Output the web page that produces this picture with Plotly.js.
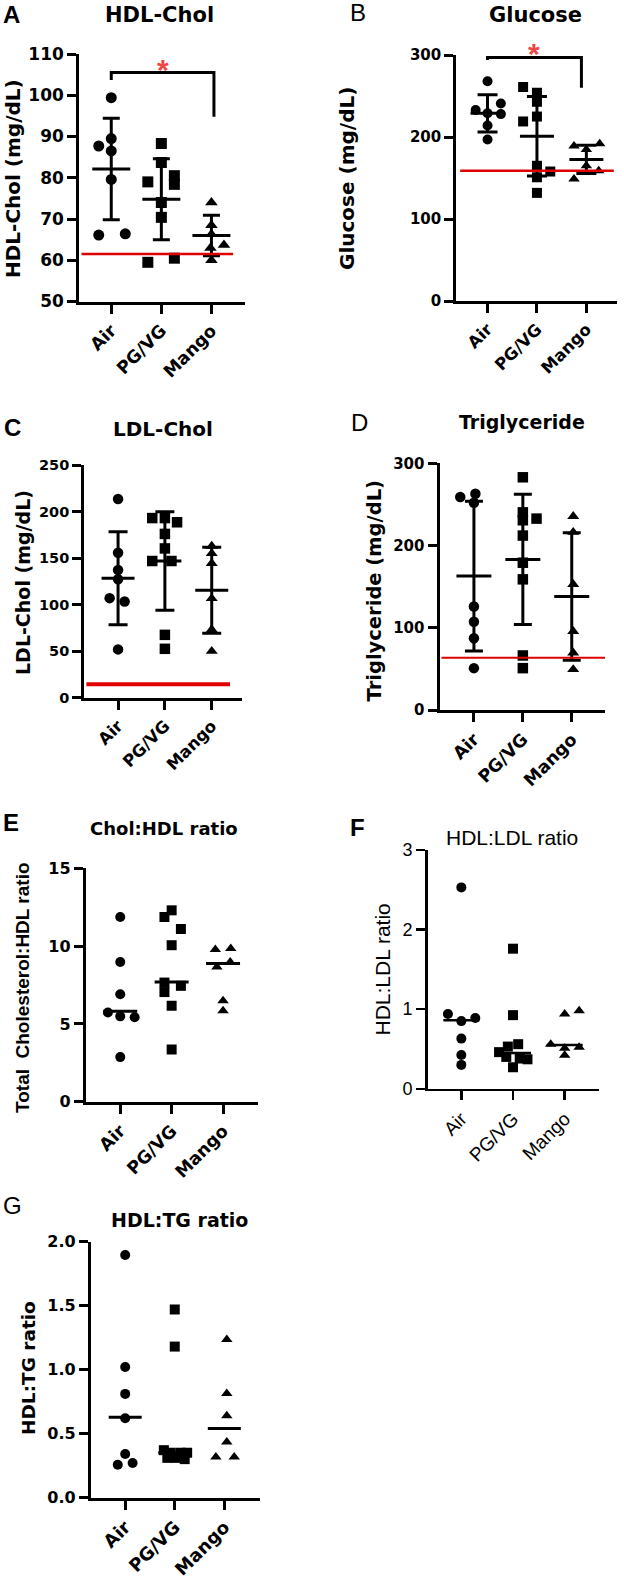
<!DOCTYPE html>
<html>
<head>
<meta charset="utf-8">
<script src="https://cdn.plot.ly/plotly-3.0.1.min.js"></script>
<style>
  html, body { margin: 0; padding: 0; background: #fff; }
  #plot { width: 624px; height: 1578px; }
</style>
</head>
<body>
<div id="plot"></div>
<script>
// GROUPS
var groups = ["Air", "PG/VG", "Mango"];
var symbols = ["circle", "square", "triangle-up"];

// A - HDL-Chol (mg/dL), mean +/- SD
var hdlAir = [99.4, 89.5, 87.7, 86.5, 79.6, 66.1, 66.4];
var hdlPgvg = [88.3, 83.7, 80.5, 79.0, 78.4, 74.0, 70.4, 60.5, 59.5];
var hdlMango = [74.0, 68.5, 66.3, 63.7, 63.0, 60.0];
var hdlMean = [82.1, 74.8, 66.0];
var hdlSd = [12.3, 9.8, 4.9];
var hdlRef = 61.5;
var hdlBracket = [103.7, 105.5, 94.8];
var hdlStar = 107.8;

// B - Glucose (mg/dL)
var gluAir = [268, 241, 233, 229, 228, 214, 197];
var gluPgvg = [261, 254, 243, 225, 219, 165, 158, 151, 132];
var gluMango = [192, 189, 185, 165, 159, 149];
var gluMean = [229, 201, 172.8];
var gluSd = [22.7, 48.5, 17.2];
var gluRef = 159;
var gluBracket = [294, 297, 260];
var gluStar = 309;

// C - LDL-Chol (mg/dL)
var ldlAir = [213.4, 155.8, 137.3, 127.3, 107, 103.5, 52];
var ldlPgvg = [193, 193, 188.5, 176, 160.4, 146.9, 146.9, 67.6, 52.6];
var ldlMango = [162.9, 155, 144.4, 106.7, 73.3, 50.1];
var ldlMean = [128.4, 146.9, 115.6];
var ldlSd = [49.9, 52.8, 46.2];
var ldlRef = 14.5;

// D - Triglyceride (mg/dL)
var tgAir = [263, 259, 252, 126, 107.5, 87.4, 51.1];
var tgPgvg = [283, 240.4, 232.8, 230.8, 212.2, 179.2, 159, 66.5, 51.1];
var tgMango = [235.6, 216.3, 153, 95.9, 69.7, 49.5];
var tgMean = [163, 183.2, 138.1];
var tgSd = [91, 79.2, 77.5];
var tgRef = 63.6;

// E - Total Cholesterol:HDL ratio, median
var chAir = [11.87, 8.98, 6.91, 5.74, 5.49, 5.43, 2.87];
var chPgvg = [12.3, 11.87, 11.1, 10.06, 7.66, 7.45, 7.05, 6.17, 3.36];
var chMango = [9.85, 9.79, 8.98, 8.66, 6.49, 5.85];
var chMedian = [5.81, 7.7, 8.89];

// F - HDL:LDL ratio
var hlAir = [2.53, 0.94, 0.89, 0.85, 0.63, 0.425, 0.30];
var hlPgvg = [1.76, 0.925, 0.56, 0.53, 0.46, 0.40, 0.38, 0.37, 0.27];
var hlMango = [0.98, 0.94, 0.56, 0.52, 0.51, 0.42];
var hlMedian = [0.86, 0.45, 0.55];

// G - HDL:TG ratio
var htAir = [1.896, 1.02, 0.81, 0.62, 0.34, 0.27, 0.256];
var htPgvg = [1.47, 1.18, 0.37, 0.35, 0.35, 0.35, 0.31, 0.31, 0.30];
var htMango = [1.236, 0.813, 0.64, 0.433, 0.316, 0.316];
var htMedian = [0.627, 0.35, 0.54];

// scatter spread of the dots (category units)
var jitter = {
  hdl: [[0, 0, -0.25, 0, 0, -0.25, 0.28], [0, 0, 0.26, -0.27, 0.26, 0, 0, 0.26, -0.27], [0, 0, 0, 0.25, -0.02, 0]],
  glu: [[0, 0.27, -0.24, 0, 0.27, 0, 0], [-0.28, 0, 0, 0, -0.28, 0, 0.27, 0, 0], [0.27, -0.25, 0, 0, 0.25, -0.25]],
  ldl: [[0, 0, 0, 0, -0.18, 0.14, 0], [-0.27, 0, 0.26, 0, 0, -0.27, 0.14, 0, 0], [0, 0, 0, 0, 0, 0]],
  tg: [[0.03, -0.28, 0, 0, 0, 0, 0], [0, 0, 0.28, 0, 0, 0, 0, 0, 0], [0.03, 0.03, 0.03, 0.03, 0.03, 0.03]],
  ch: [[0, 0, 0, -0.24, 0, 0.28, 0], [0, -0.14, 0.18, 0, -0.14, 0.18, -0.14, 0, 0], [0.15, -0.15, 0.14, -0.12, 0, 0]],
  hl: [[0, -0.26, 0.27, 0, 0, 0, 0], [0, 0, 0.1, -0.1, -0.27, -0.13, 0.13, 0.28, 0], [0.28, 0, -0.27, 0.28, 0, 0]],
  ht: [[0, 0, 0, 0, 0, 0.15, -0.15], [0, 0, -0.22, -0.08, 0.12, 0.25, -0.15, 0.02, 0.2], [0.05, 0.05, 0.05, 0.05, -0.17, 0.2]]
};

var W = 624, H = 1578;
var BOLD_WIDE = "DejaVu Sans";
var ARIAL = "Liberation Sans, Arial";

var traces = [];
var layout = {
  width: W, height: H,
  margin: {l: 0, r: 0, t: 0, b: 0},
  showlegend: false,
  hovermode: false,
  paper_bgcolor: "#fff",
  plot_bgcolor: "rgba(0,0,0,0)",
  annotations: [],
  shapes: []
};

function px(x) { return x / W; }
function py(y) { return 1 - y / H; }

function note(text, x, y, font, angle) {
  layout.annotations.push({
    text: text, xref: "paper", yref: "paper", x: px(x), y: py(y),
    xanchor: "center", yanchor: "middle", showarrow: false,
    textangle: angle || 0, font: font
  });
}

function addPanel(n, p) {
  var sfx = n === 1 ? "" : String(n);
  var xa = "x" + sfx, ya = "y" + sfx;
  var lw = p.lw;
  var tickFont = {family: p.family, size: p.tickSize, color: "#000", weight: p.weight};
  var catFont = {family: p.family, size: p.catSize, color: "#000", weight: p.weight};
  var yDomain = [py(p.box[3] - lw / 2), py(p.box[2])];

  layout["xaxis" + sfx] = {
    domain: [px(p.box[0] + lw / 2), px(p.box[1])],
    anchor: ya, range: p.xRange, fixedrange: true,
    tickvals: [0, 1, 2], ticktext: groups, tickangle: -45,
    ticks: "outside", ticklen: p.ticklen, tickwidth: lw, tickcolor: "#000",
    showline: true, linewidth: lw, linecolor: "#000",
    showgrid: false, zeroline: false, tickfont: catFont
  };
  layout["yaxis" + sfx] = {
    domain: yDomain,
    anchor: xa, range: p.yRange, dtick: p.dtick, tick0: 0, fixedrange: true,
    tickformat: p.tickformat || "",
    ticks: "outside", ticklen: p.ticklen, tickwidth: lw, tickcolor: "#000",
    showline: true, linewidth: lw, linecolor: "#000",
    showgrid: false, zeroline: false, tickfont: tickFont
  };

  p.values.forEach(function(vals, g) {
    traces.push({
      type: "scatter", mode: "markers", xaxis: xa, yaxis: ya, cliponaxis: false,
      x: vals.map(function(v, i) { return g + p.jitter[g][i]; }),
      y: vals,
      marker: {symbol: symbols[g], size: p.markerSize, color: "#000"}
    });
  });

  var center = {
    type: "scatter", mode: "markers", xaxis: xa, yaxis: ya, cliponaxis: false,
    x: [0, 1, 2], y: p.center,
    marker: {symbol: "line-ew", size: p.barWidth / 1.4, color: "#000",
      line: {width: p.barLine, color: "#000"}}
  };
  if (p.sd) {
    center.error_y = {type: "data", array: p.sd, visible: true,
      thickness: lw, width: p.cap, color: "#000"};
  }
  traces.push(center);

  if (p.ref !== undefined) {
    layout.shapes.push({
      type: "line", xref: xa + " domain", yref: ya,
      x0: p.refSpan[0], x1: p.refSpan[1], y0: p.ref, y1: p.ref,
      line: {color: "#e00000", width: p.refWidth}
    });
  }

  if (p.bracket) {
    traces.push({
      type: "scatter", mode: "lines", xaxis: xa, yaxis: ya, cliponaxis: false,
      x: [0, 0, p.bracketEnd, p.bracketEnd],
      y: [p.bracket[0], p.bracket[1], p.bracket[1], p.bracket[2]],
      line: {color: "#000", width: lw}
    });
    // star may sit above the axis range, so place it on paper through the panel scale
    var frac = (p.star - p.yRange[0]) / (p.yRange[1] - p.yRange[0]);
    layout.annotations.push({
      text: "*", xref: xa, yref: "paper", x: p.bracketEnd / 2,
      y: yDomain[0] + frac * (yDomain[1] - yDomain[0]),
      showarrow: false, xanchor: "center", yanchor: "middle", yshift: -6,
      font: {family: ARIAL, size: 30, color: "#f04646", weight: 700}
    });
  }

  note(p.letter, p.letterPos[0], p.letterPos[1],
    {family: ARIAL, size: 24, color: "#000", weight: p.letterWeight});
  note(p.title, p.titlePos[0], p.titlePos[1],
    {family: p.family, size: p.titleSize, color: "#000", weight: p.weight});
  note(p.ytitle, p.ytitlePos[0], p.ytitlePos[1],
    {family: p.yFamily || p.family, size: p.ytitleSize, color: "#000", weight: p.weight}, -90);
}

addPanel(1, {
  letter: "A", letterWeight: 700, letterPos: [11.5, 14],
  title: "HDL-Chol", titlePos: [159.7, 15], titleSize: 21,
  ytitle: "HDL-Chol (mg/dL)", ytitlePos: [13.5, 178.5], ytitleSize: 20,
  family: BOLD_WIDE, weight: 700, tickSize: 17, catSize: 17.5,
  box: [77.7, 245, 54, 303], xRange: [-0.64, 2.67], yRange: [50, 110], dtick: 10,
  lw: 3, ticklen: 9, markerSize: 11, barWidth: 38, barLine: 3, cap: 8.5,
  values: [hdlAir, hdlPgvg, hdlMango], jitter: jitter.hdl,
  center: hdlMean, sd: hdlSd,
  ref: hdlRef, refSpan: [0.014, 0.928], refWidth: 2.5,
  bracket: hdlBracket, bracketEnd: 2.05, star: hdlStar
});

addPanel(2, {
  letter: "B", letterWeight: 400, letterPos: [358, 13],
  title: "Glucose", titlePos: [535, 15], titleSize: 21,
  ytitle: "Glucose (mg/dL)", ytitlePos: [347.5, 178.5], ytitleSize: 20,
  family: BOLD_WIDE, weight: 700, tickSize: 15, catSize: 16.5,
  box: [454.7, 617, 55, 302.7], xRange: [-0.634, 2.62], yRange: [0, 300], dtick: 100,
  lw: 3, ticklen: 9, markerSize: 10, barWidth: 34, barLine: 3, cap: 10,
  values: [gluAir, gluPgvg, gluMango], jitter: jitter.glu,
  center: gluMean, sd: gluSd,
  ref: gluRef, refSpan: [0.025, 0.98], refWidth: 2.5,
  bracket: gluBracket, bracketEnd: 1.9, star: gluStar
});

addPanel(3, {
  letter: "C", letterWeight: 700, letterPos: [12, 427],
  title: "LDL-Chol", titlePos: [162.5, 429], titleSize: 20,
  ytitle: "LDL-Chol (mg/dL)", ytitlePos: [22.5, 582.5], ytitleSize: 19,
  family: BOLD_WIDE, weight: 700, tickSize: 14.5, catSize: 16.5,
  box: [82.7, 241.7, 465, 699.3], xRange: [-0.723, 2.64], yRange: [0, 250], dtick: 50,
  lw: 3, ticklen: 9, markerSize: 10.5, barWidth: 33, barLine: 3, cap: 9.5,
  values: [ldlAir, ldlPgvg, ldlMango], jitter: jitter.ldl,
  center: ldlMean, sd: ldlSd,
  ref: ldlRef, refSpan: [0.014, 0.926], refWidth: 4
});

addPanel(4, {
  letter: "D", letterWeight: 400, letterPos: [359.5, 422],
  title: "Triglyceride", titlePos: [522, 422], titleSize: 19,
  ytitle: "Triglyceride (mg/dL)", ytitlePos: [374.5, 591], ytitleSize: 19.5,
  family: BOLD_WIDE, weight: 700, tickSize: 15, catSize: 17.5,
  box: [438, 605, 463.3, 711.7], xRange: [-0.704, 2.68], yRange: [0, 300], dtick: 100,
  lw: 3, ticklen: 9, markerSize: 10.5, barWidth: 35, barLine: 3, cap: 9,
  values: [tgAir, tgPgvg, tgMango], jitter: jitter.tg,
  center: tgMean, sd: tgSd,
  ref: tgRef, refSpan: [0.012, 1.0], refWidth: 2
});

addPanel(5, {
  letter: "E", letterWeight: 700, letterPos: [11, 822],
  title: "Chol:HDL ratio", titlePos: [163.7, 828], titleSize: 18,
  ytitle: "Total\u00a0 Cholesterol:HDL ratio", ytitlePos: [22.5, 987.5], ytitleSize: 19,
  yFamily: ARIAL,
  family: BOLD_WIDE, weight: 700, tickSize: 16, catSize: 17.5,
  box: [84.3, 258, 868.3, 1103.3], xRange: [-0.67, 2.68], yRange: [0, 15], dtick: 5,
  lw: 3, ticklen: 9, markerSize: 10, barWidth: 34, barLine: 3,
  values: [chAir, chPgvg, chMango], jitter: jitter.ch,
  center: chMedian
});

addPanel(6, {
  letter: "F", letterWeight: 700, letterPos: [357, 827],
  title: "HDL:LDL ratio", titlePos: [512, 838], titleSize: 21,
  ytitle: "HDL:LDL ratio", ytitlePos: [381.5, 970], ytitleSize: 21,
  family: ARIAL, weight: 400, tickSize: 18, catSize: 19,
  box: [426.3, 599.3, 850, 1090], xRange: [-0.654, 2.67], yRange: [0, 3], dtick: 1,
  lw: 2.5, ticklen: 9, markerSize: 10, barWidth: 36, barLine: 2.5,
  values: [hlAir, hlPgvg, hlMango], jitter: jitter.hl,
  center: hlMedian
});

addPanel(7, {
  letter: "G", letterWeight: 400, letterPos: [12, 1205],
  title: "HDL:TG ratio", titlePos: [180, 1220], titleSize: 19,
  ytitle: "HDL:TG ratio", ytitlePos: [28.5, 1368.5], ytitleSize: 18.5,
  family: BOLD_WIDE, weight: 700, tickSize: 16, catSize: 18,
  box: [89.3, 260, 1241.7, 1499], xRange: [-0.694, 2.72], yRange: [0, 2], dtick: 0.5,
  tickformat: ".1f",
  lw: 3, ticklen: 9, markerSize: 10, barWidth: 33, barLine: 3,
  values: [htAir, htPgvg, htMango], jitter: jitter.ht,
  center: htMedian
});

Plotly.newPlot("plot", traces, layout, {staticPlot: true, displayModeBar: false});
</script>
</body>
</html>
